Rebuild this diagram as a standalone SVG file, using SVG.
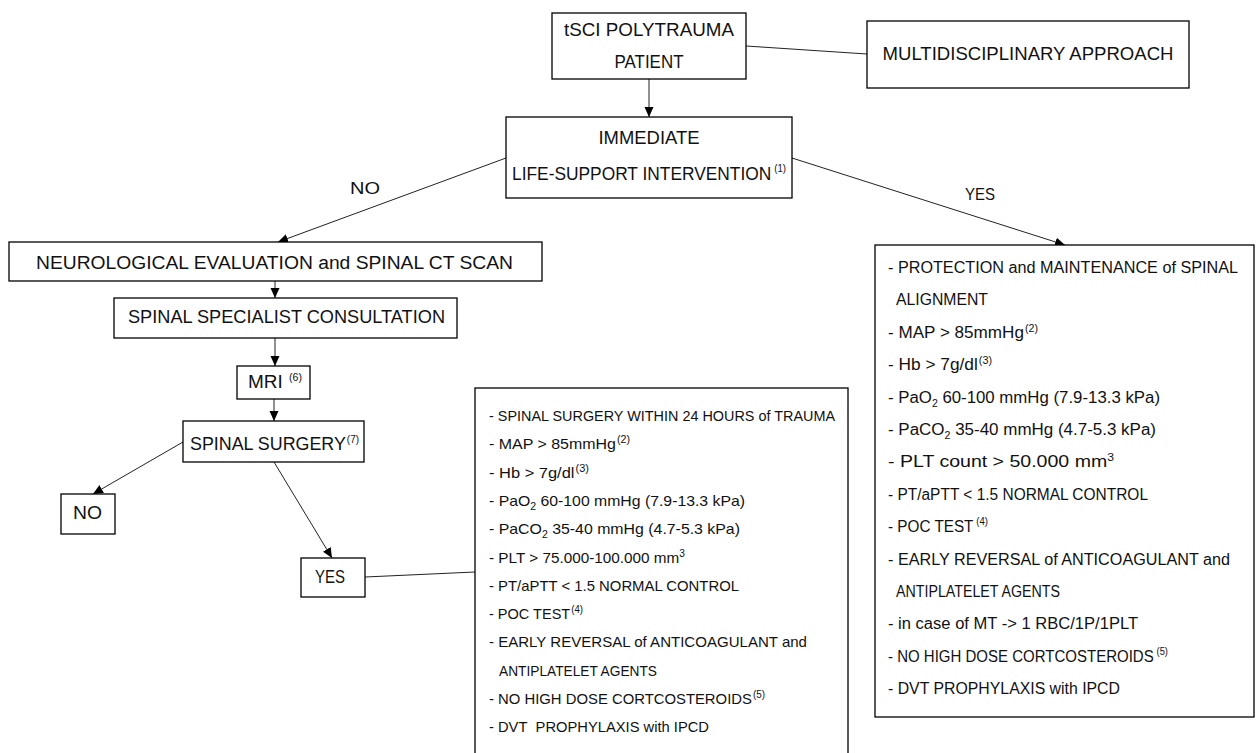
<svg xmlns="http://www.w3.org/2000/svg" width="1256" height="753" viewBox="0 0 1256 753">
<style>
.box{fill:#fff;stroke:#000;stroke-width:1.3}
text{font-family:"Liberation Sans",Arial,sans-serif;fill:#111}
.lbl{font-size:18px}
.arrlbl{font-size:17px}
.mid{font-size:15px}
.rt{font-size:16px}
.sup{font-size:10px}
.c{fill:none;stroke:#222;stroke-width:1}
</style>
<defs>
<marker id="ah" markerUnits="userSpaceOnUse" markerWidth="10" markerHeight="10" viewBox="0 0 10 10" refX="10" refY="5" orient="auto">
<path d="M0,0.5 L10,5 L0,9.5 z" fill="#000"/>
</marker>
</defs>
<rect width="1256" height="753" fill="#fff"/>

<g id="connectors">
<line class="c" x1="649" y1="79" x2="649" y2="117" marker-end="url(#ah)"/>
<line class="c" x1="746" y1="46" x2="867" y2="54"/>
<line class="c" x1="506" y1="158" x2="278" y2="242" marker-end="url(#ah)"/>
<line class="c" x1="792" y1="158" x2="1065" y2="245" marker-end="url(#ah)"/>
<line class="c" x1="275" y1="281" x2="275" y2="298" marker-end="url(#ah)"/>
<line class="c" x1="275" y1="338" x2="275" y2="366" marker-end="url(#ah)"/>
<line class="c" x1="274" y1="399" x2="274" y2="421" marker-end="url(#ah)"/>
<line class="c" x1="183" y1="442" x2="93" y2="494" marker-end="url(#ah)"/>
<line class="c" x1="274" y1="462" x2="332" y2="558" marker-end="url(#ah)"/>
<line class="c" x1="365" y1="577" x2="475" y2="572"/>
<text class="arrlbl" x="350" y="194" textLength="30" lengthAdjust="spacingAndGlyphs">NO</text>
<text class="arrlbl" x="965" y="200" textLength="30" lengthAdjust="spacingAndGlyphs">YES</text>
</g>

<g id="n-patient">
<rect class="box" x="552" y="13" width="194" height="66"/>
<text class="lbl" x="649" y="36" text-anchor="middle" textLength="170" lengthAdjust="spacingAndGlyphs">tSCI POLYTRAUMA</text>
<text class="lbl" x="649" y="68" text-anchor="middle" textLength="69" lengthAdjust="spacingAndGlyphs">PATIENT</text>
</g>

<g id="n-multi">
<rect class="box" x="867" y="21" width="322" height="67"/>
<text class="lbl" x="1028" y="60" text-anchor="middle" textLength="291" lengthAdjust="spacingAndGlyphs">MULTIDISCIPLINARY APPROACH</text>
</g>

<g id="n-immediate">
<rect class="box" x="506" y="117" width="286" height="81"/>
<text class="lbl" x="649" y="144" text-anchor="middle" textLength="101" lengthAdjust="spacingAndGlyphs">IMMEDIATE</text>
<text class="lbl" x="512" y="180" textLength="274" lengthAdjust="spacingAndGlyphs">LIFE-SUPPORT INTERVENTION<tspan class="sup" dx="3" dy="-8">(1)</tspan></text>
</g>

<g id="n-neuro">
<rect class="box" x="9" y="242" width="533" height="39"/>
<text class="lbl" x="36" y="269" textLength="477" lengthAdjust="spacingAndGlyphs">NEUROLOGICAL EVALUATION and SPINAL CT SCAN</text>
</g>

<g id="n-spec">
<rect class="box" x="114" y="298" width="343" height="40"/>
<text class="lbl" x="128" y="323" textLength="317" lengthAdjust="spacingAndGlyphs">SPINAL SPECIALIST CONSULTATION</text>
</g>

<g id="n-mri">
<rect class="box" x="237" y="366" width="73" height="33"/>
<text class="lbl" x="248" y="388" textLength="54" lengthAdjust="spacingAndGlyphs">MRI <tspan class="sup" dx="1" dy="-7">(6)</tspan></text>
</g>

<g id="n-surgery">
<rect class="box" x="183" y="421" width="181" height="41"/>
<text class="lbl" x="190" y="450" textLength="169" lengthAdjust="spacingAndGlyphs">SPINAL SURGERY<tspan class="sup" dx="1" dy="-7">(7)</tspan></text>
</g>

<g id="n-no">
<rect class="box" x="61" y="494" width="54" height="40"/>
<text class="lbl" x="73" y="519" textLength="29" lengthAdjust="spacingAndGlyphs">NO</text>
</g>

<g id="n-yes">
<rect class="box" x="301" y="558" width="64" height="39"/>
<text class="lbl" x="315" y="583" textLength="30" lengthAdjust="spacingAndGlyphs">YES</text>
</g>

<g id="n-surgery-measures">
<rect class="box" x="475" y="388" width="373" height="380"/>
<text class="mid" x="489" y="421" textLength="346" lengthAdjust="spacingAndGlyphs">- SPINAL SURGERY WITHIN 24 HOURS of TRAUMA</text>
<text class="mid" x="489" y="449.3" textLength="141" lengthAdjust="spacingAndGlyphs">- MAP &gt; 85mmHg<tspan class="sup" dx="1" dy="-6">(2)</tspan></text>
<text class="mid" x="489" y="477.6" textLength="100" lengthAdjust="spacingAndGlyphs">- Hb &gt; 7g/dl<tspan class="sup" dx="1" dy="-6">(3)</tspan></text>
<text class="mid" x="489" y="505.9" textLength="256" lengthAdjust="spacingAndGlyphs">- PaO<tspan class="sup" dy="4">2</tspan><tspan dy="-4"> 60-100 mmHg (7.9-13.3 kPa)</tspan></text>
<text class="mid" x="489" y="534.2" textLength="251" lengthAdjust="spacingAndGlyphs">- PaCO<tspan class="sup" dy="4">2</tspan><tspan dy="-4"> 35-40 mmHg (4.7-5.3 kPa)</tspan></text>
<text class="mid" x="489" y="562.5" textLength="196" lengthAdjust="spacingAndGlyphs">- PLT &gt; 75.000-100.000 mm<tspan class="sup" dy="-6">3</tspan></text>
<text class="mid" x="489" y="590.8" textLength="250" lengthAdjust="spacingAndGlyphs">- PT/aPTT &lt; 1.5 NORMAL CONTROL</text>
<text class="mid" x="489" y="619.1" textLength="94" lengthAdjust="spacingAndGlyphs">- POC TEST<tspan class="sup" dx="1" dy="-6">(4)</tspan></text>
<text class="mid" x="489" y="647.4" textLength="318" lengthAdjust="spacingAndGlyphs">- EARLY REVERSAL of ANTICOAGULANT and</text>
<text class="mid" x="499" y="675.7" textLength="158" lengthAdjust="spacingAndGlyphs">ANTIPLATELET AGENTS</text>
<text class="mid" x="489" y="704" textLength="276" lengthAdjust="spacingAndGlyphs">- NO HIGH DOSE CORTCOSTEROIDS<tspan class="sup" dx="1" dy="-6">(5)</tspan></text>
<text class="mid" x="489" y="732.3" textLength="220" lengthAdjust="spacingAndGlyphs">- DVT&#160; PROPHYLAXIS with IPCD</text>
</g>

<g id="n-life-support-measures">
<rect class="box" x="875" y="245" width="379" height="472"/>
<text class="rt" x="888" y="273" textLength="350" lengthAdjust="spacingAndGlyphs">- PROTECTION and MAINTENANCE of SPINAL</text>
<text class="rt" x="896" y="305.4" textLength="92" lengthAdjust="spacingAndGlyphs">ALIGNMENT</text>
<text class="rt" x="888" y="337.8" textLength="150" lengthAdjust="spacingAndGlyphs">- MAP &gt; 85mmHg<tspan class="sup" dx="1" dy="-6">(2)</tspan></text>
<text class="rt" x="888" y="370.2" textLength="104" lengthAdjust="spacingAndGlyphs">- Hb &gt; 7g/dl<tspan class="sup" dx="1" dy="-6">(3)</tspan></text>
<text class="rt" x="888" y="402.6" textLength="272" lengthAdjust="spacingAndGlyphs">- PaO<tspan class="sup" dy="4">2</tspan><tspan dy="-4"> 60-100 mmHg (7.9-13.3 kPa)</tspan></text>
<text class="rt" x="888" y="435" textLength="268" lengthAdjust="spacingAndGlyphs">- PaCO<tspan class="sup" dy="4">2</tspan><tspan dy="-4"> 35-40 mmHg (4.7-5.3 kPa)</tspan></text>
<text class="rt" x="888" y="467.4" textLength="226" lengthAdjust="spacingAndGlyphs">- PLT count &gt; 50.000 mm<tspan class="sup" dy="-6">3</tspan></text>
<text class="rt" x="888" y="499.8" textLength="260" lengthAdjust="spacingAndGlyphs">- PT/aPTT &lt; 1.5 NORMAL CONTROL</text>
<text class="rt" x="888" y="532.2" textLength="100" lengthAdjust="spacingAndGlyphs">- POC TEST<tspan class="sup" dx="3" dy="-7">(4)</tspan></text>
<text class="rt" x="888" y="564.6" textLength="342" lengthAdjust="spacingAndGlyphs">- EARLY REVERSAL of ANTICOAGULANT and</text>
<text class="rt" x="896" y="597" textLength="164" lengthAdjust="spacingAndGlyphs">ANTIPLATELET AGENTS</text>
<text class="rt" x="888" y="629.4" textLength="250" lengthAdjust="spacingAndGlyphs">- in case of MT -&gt; 1 RBC/1P/1PLT</text>
<text class="rt" x="888" y="661.8" textLength="280" lengthAdjust="spacingAndGlyphs">- NO HIGH DOSE CORTCOSTEROIDS<tspan class="sup" dx="3" dy="-7">(5)</tspan></text>
<text class="rt" x="888" y="694.2" textLength="232" lengthAdjust="spacingAndGlyphs">- DVT PROPHYLAXIS with IPCD</text>
</g>
</svg>
